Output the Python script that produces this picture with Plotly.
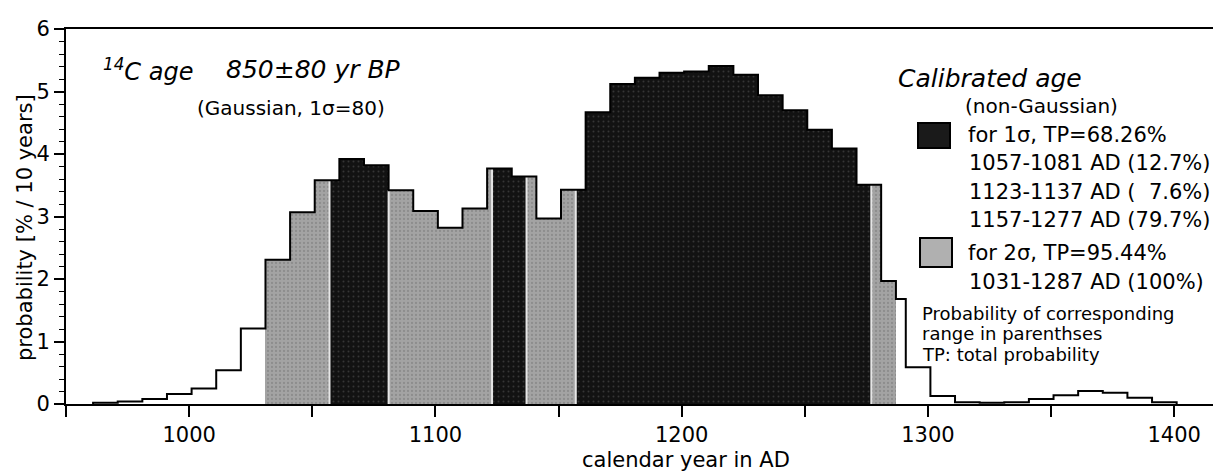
import plotly.graph_objects as go

# ---- data: histogram segments (calendar year AD), probability [% / 10 years]
seg_start = [961, 971, 981, 991, 1001, 1011, 1021,
             1031, 1041, 1051,
             1057, 1061, 1071,
             1081, 1091, 1101, 1111, 1121,
             1123, 1131,
             1137, 1141, 1151,
             1157, 1161, 1171, 1181, 1191, 1201, 1211, 1221, 1231, 1241, 1251, 1261, 1271,
             1277, 1281,
             1287, 1291, 1301, 1311, 1321, 1331, 1341, 1351, 1361, 1371, 1381, 1391]
seg_end = [971, 981, 991, 1001, 1011, 1021, 1031,
           1041, 1051, 1057,
           1061, 1071, 1081,
           1091, 1101, 1111, 1121, 1123,
           1131, 1137,
           1141, 1151, 1157,
           1161, 1171, 1181, 1191, 1201, 1211, 1221, 1231, 1241, 1251, 1261, 1271, 1277,
           1281, 1287,
           1291, 1301, 1311, 1321, 1331, 1341, 1351, 1361, 1371, 1381, 1391, 1401]
prob = [0.02, 0.04, 0.08, 0.16, 0.25, 0.54, 1.21,
        2.31, 3.07, 3.58,
        3.58, 3.92, 3.82,
        3.42, 3.09, 2.82, 3.13, 3.77,
        3.77, 3.64,
        3.64, 2.97, 3.43,
        3.43, 4.67, 5.12, 5.22, 5.30, 5.32, 5.41, 5.27, 4.94, 4.70, 4.39, 4.09, 3.51,
        3.51, 1.97,
        1.68, 0.59, 0.13, 0.03, 0.02, 0.03, 0.08, 0.14, 0.21, 0.18, 0.10, 0.03]
# range class of each segment: 0 = outside, 1 = 1 sigma, 2 = 2 sigma
sigma = [0] * 7 + [2] * 3 + [1] * 3 + [2] * 5 + [1] * 2 + [2] * 3 + [1] * 13 + [2] * 2 + [0] * 12

y_ticks = [0, 1, 2, 3, 4, 5, 6]

legend_lines = ["1057-1081 AD (12.7%)", "1123-1137 AD (\u00a0\u00a07.6%)", "1157-1277 AD (79.7%)"]
note_lines = ["Probability of corresponding", "range in parenthses", "TP: total probability"]

FONT = "DejaVu Sans"
BODY = 8  # default page margin around the plot div
W, H = 1221 - BODY, 471 - BODY
ML, MR, MT, MB = 58, 0, 21, 67
PW, PH = W - ML - MR, H - MT - MB


def px(x):
    return (x - BODY - ML) / PW


def py(y):
    return (BODY + MT + PH - y) / PH


fig = go.Figure()

styles = {
    1: dict(color="#141414", pattern=dict(shape=".", bgcolor="#121212", fgcolor="#5a5a5a", size=5, solidity=0.12)),
    2: dict(color="#9e9e9e", pattern=dict(shape=".", bgcolor="#a3a3a3", fgcolor="#767676", size=4, solidity=0.25)),
}
for cls in (2, 1):
    idx = [i for i, s in enumerate(sigma) if s == cls]
    fig.add_trace(go.Bar(
        x=[(seg_start[i] + seg_end[i]) / 2 for i in idx],
        y=[prob[i] for i in idx],
        width=[seg_end[i] - seg_start[i] for i in idx],
        marker=dict(color=styles[cls]["color"], pattern=styles[cls]["pattern"], line=dict(width=0)),
        showlegend=False, hoverinfo="skip",
    ))

# thin light seams where the fill changes between 1 sigma and 2 sigma
seam_x, seam_y = [], []
for i in range(1, len(sigma)):
    if sigma[i] != sigma[i - 1] and sigma[i] and sigma[i - 1]:
        seam_x += [seg_start[i], seg_start[i], None]
        seam_y += [0, prob[i], None]
fig.add_trace(go.Scatter(x=seam_x, y=seam_y, mode="lines", line=dict(color="#e6e6e6", width=2),
                         showlegend=False, hoverinfo="skip"))

# step outline of the histogram
step_x = [seg_start[0]] + seg_start + [seg_end[-1]]
step_y = [0] + prob + [0]
fig.add_trace(go.Scatter(x=step_x, y=step_y, mode="lines", line=dict(color="black", width=2, shape="hv"),
                         showlegend=False, hoverinfo="skip"))

fig.update_layout(
    width=W, height=H,
    margin=dict(l=ML, r=MR, t=MT, b=MB, pad=0),
    plot_bgcolor="white", paper_bgcolor="white",
    bargap=0, barmode="overlay",
    font=dict(family=FONT, color="black"),
    xaxis=dict(range=[950, 1419], tick0=1000, dtick=100, ticks="outside", ticklen=11,
               tickwidth=2, tickcolor="black", showline=True, linecolor="black", linewidth=2, mirror=True,
               showgrid=False, zeroline=False, tickfont=dict(size=21, family=FONT),
               minor=dict(tick0=1000, dtick=50, ticks="outside", ticklen=11, tickwidth=2, tickcolor="black",
                          showgrid=False)),
    yaxis=dict(range=[0, 6], tickvals=y_ticks, ticks="outside", ticklen=10, tickwidth=2, tickcolor="black",
               showline=True, linecolor="black", linewidth=2, showgrid=False, zeroline=False,
               tickfont=dict(size=21, family=FONT),
               minor=dict(dtick=0.2, ticks="outside", ticklen=5, tickwidth=1, tickcolor="black", showgrid=False)),
)

ann = []


def txt(text, x, y, size, xanchor="left", **kw):
    ann.append(dict(text=text, x=px(x), y=py(y), xref="paper", yref="paper", xanchor=xanchor,
                    yanchor="middle", showarrow=False, font=dict(size=size, family=FONT, color="black"), **kw))


txt("<i><sup>14</sup>C age</i>", 101, 70, 24)
txt("<i>850±80 yr BP</i>", 224, 70, 25)
txt("(Gaussian, 1σ=80)", 195, 108, 20)
txt("<i>Calibrated age</i>", 896, 78, 25)
txt("(non-Gaussian)", 963, 106, 20)
txt("for 1σ, TP=68.26%", 966, 135, 21)
for k, line in enumerate(legend_lines):
    txt(line, 967, 163 + 28.5 * k, 21)
txt("for 2σ, TP=95.44%", 966, 253, 21)
txt("1031-1287 AD (100%)", 967, 282, 21)
for k, line in enumerate(note_lines):
    txt(line, 920, 313 + 20.5 * k, 18)
# axis titles
txt("calendar year in AD", 686, 460, 21, xanchor="center")
ann.append(dict(text="probability [% / 10 years]", x=px(25), y=py(228), xref="paper", yref="paper",
                xanchor="center", yanchor="middle", textangle=-90, showarrow=False,
                font=dict(size=21, family=FONT, color="black")))
fig.update_layout(annotations=ann)

# legend swatches
fig.add_shape(type="rect", xref="paper", yref="paper", x0=px(918), x1=px(950), y0=py(148), y1=py(123),
              line=dict(color="black", width=2), fillcolor="#1a1a1a")
fig.add_shape(type="rect", xref="paper", yref="paper", x0=px(920), x1=px(952), y0=py(267), y1=py(238),
              line=dict(color="black", width=2), fillcolor="#b0b0b0")

fig.write_html("out.html")
